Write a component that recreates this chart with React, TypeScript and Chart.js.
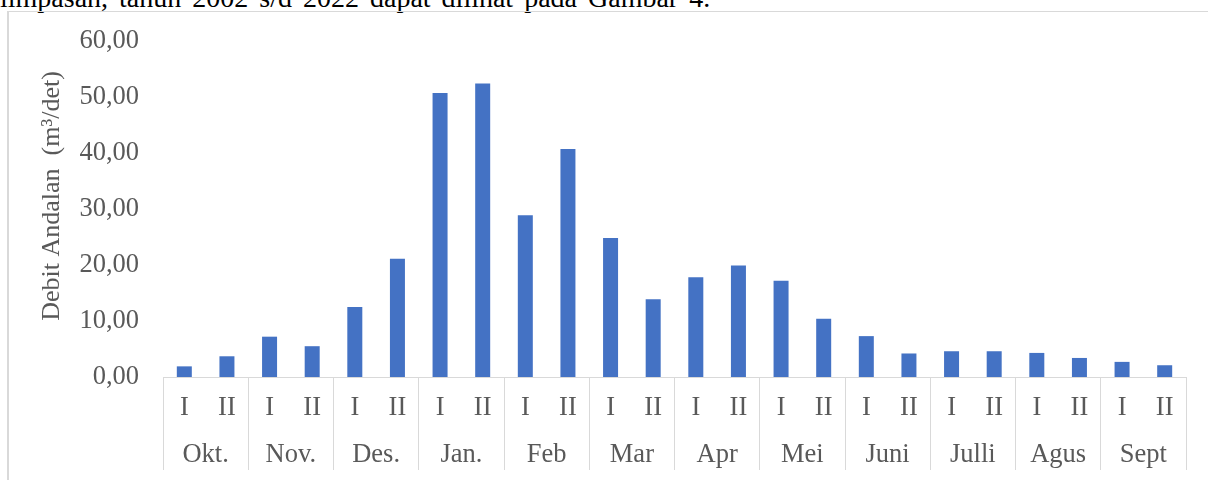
import React, { useEffect, useRef } from "react";
import { Chart, registerables } from "chart.js";

Chart.register(...registerables);

const subLabels = ["I", "II", "I", "II", "I", "II", "I", "II", "I", "II", "I", "II", "I", "II", "I", "II", "I", "II", "I", "II", "I", "II", "I", "II"];
const months = ["Okt.", "Nov.", "Des.", "Jan.", "Feb", "Mar", "Apr", "Mei", "Juni", "Julli", "Agus", "Sept"];
const debitAndalan = [1.9, 3.7, 7.2, 5.5, 12.5, 21.1, 50.7, 52.4, 28.9, 40.7, 24.8, 13.9, 17.8, 19.9, 17.2, 10.4, 7.3, 4.2, 4.6, 4.6, 4.3, 3.4, 2.7, 2.1];
const yMin = 0;
const yMax = 60;
const yStep = 10;
const yTitle = "Debit Andalan  (m³/det)";
const topText = "limpasan, tahun 2002 s/d 2022 dapat dilihat pada Gambar 4.";

const FONT = '"Liberation Serif", "Times New Roman", serif';
const TEXT = "#595959";
const LINE = "#d9d9d9";
const BAR = "#4472C4";
const FS = 26.5;
const HALF = (FS * 1.2) / 2;

export default function App() {
  const ref = useRef<HTMLCanvasElement | null>(null);

  useEffect(() => {
    if (!ref.current) return;
    const chart = new Chart(ref.current, {
      type: "bar",
      data: {
        labels: subLabels,
        datasets: [
          {
            data: debitAndalan,
            backgroundColor: BAR,
            borderWidth: 0,
            barPercentage: 0.352,
            categoryPercentage: 1,
          },
        ],
      },
      options: {
        animation: false,
        responsive: false,
        devicePixelRatio: 1,
        layout: { padding: { top: 41, right: 22, bottom: 0, left: 0 } },
        plugins: { legend: { display: false }, tooltip: { enabled: false } },
        scales: {
          x: {
            type: "category",
            labels: subLabels,
            position: "bottom",
            weight: 0,
            offset: true,
            grid: {
              display: true,
              drawOnChartArea: false,
              drawTicks: true,
              tickLength: 93,
              offset: true,
              lineWidth: 1,
              color: (ctx: any) =>
                ctx.index === undefined || ctx.index % 2 === 0 ? LINE : "rgba(0,0,0,0)",
            },
            border: { display: true, color: LINE, width: 1 },
            ticks: {
              autoSkip: false,
              maxRotation: 0,
              minRotation: 0,
              padding: 408 - 377 - 93 - HALF,
              color: TEXT,
              font: { family: FONT, size: FS },
            },
            afterFit: (scale: any) => {
              scale.height = 46;
            },
          },
          x2: {
            type: "category",
            labels: months,
            position: "bottom",
            axis: "x",
            weight: 1,
            offset: true,
            grid: { display: false, drawTicks: false, drawOnChartArea: false },
            border: { display: false },
            ticks: {
              autoSkip: false,
              maxRotation: 0,
              minRotation: 0,
              padding: 455 - 423 - HALF,
              color: TEXT,
              font: { family: FONT, size: FS },
            },
            afterFit: (scale: any) => {
              scale.height = 57;
            },
          },
          y: {
            type: "linear",
            min: yMin,
            max: yMax,
            grid: { display: false, drawTicks: false },
            border: { display: false },
            ticks: {
              stepSize: yStep,
              padding: 24,
              color: TEXT,
              font: { family: FONT, size: FS },
              callback: (v: any) => Number(v).toFixed(2).replace(".", ","),
            },
            title: {
              display: true,
              text: "    " + yTitle,
              color: TEXT,
              font: { family: FONT, size: 26 },
              padding: { top: 37, bottom: 0 },
            },
            afterFit: (scale: any) => {
              scale.width = 163;
            },
          },
        },
      },
    });
    return () => chart.destroy();
  }, []);

  return (
    <div
      style={{
        position: "fixed",
        left: 0,
        top: 0,
        width: 1208,
        height: 480,
        overflow: "hidden",
        background: "#fff",
      }}
    >
      <div
        style={{
          position: "absolute",
          left: 0,
          top: -18,
          whiteSpace: "nowrap",
          fontFamily: FONT,
          fontSize: 28,
          wordSpacing: 4,
          lineHeight: 1.107,
          color: "#000",
        }}
      >
        {topText}
      </div>
      <div
        style={{
          position: "absolute",
          left: 7,
          top: 11,
          width: 1400,
          height: 700,
          borderLeft: `2px solid ${LINE}`,
          borderTop: `1px solid ${LINE}`,
        }}
      />
      <canvas
        ref={ref}
        width={1208}
        height={480}
        style={{ position: "absolute", left: 0, top: 0, width: 1208, height: 480 }}
      />
    </div>
  );
}
